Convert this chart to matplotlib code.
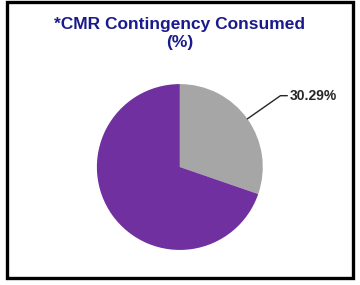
import matplotlib.pyplot as plt
from matplotlib.patches import Rectangle
import numpy as np

title = '*CMR Contingency Consumed\n(%)'
labels = ['Consumed', 'Remaining']
values = [30.29, 69.71]
colors = ['#A6A6A6', '#7030A0']


def main():
	plt.rcParams['font.family'] = ['Liberation Sans', 'DejaVu Sans']
	fig = plt.figure(figsize=(3.6, 2.85), dpi=100, facecolor='w')

	# outer frame
	fig.patches.append(Rectangle((7 / 360, 7 / 285), 346 / 360, 276 / 285,
		transform=fig.transFigure, fill=False, edgecolor='#000000', linewidth=2.4))

	fig.text(0.5, 0.94, title, ha='center', va='top', fontsize=12.5,
		fontweight='bold', color='#1A1A8C', linespacing=1.25)

	ax = fig.add_axes([0.269, 0.123, 0.461, 0.582])
	wedges, _ = ax.pie(values, colors=colors, startangle=90, counterclock=False,
		radius=1, wedgeprops=dict(linewidth=0))
	ax.set_xlim(-1, 1)
	ax.set_ylim(-1, 1)
	ax.set_aspect('equal')
	ax.axis('off')

	# label for the consumed slice
	w = wedges[0]
	ang = np.deg2rad((w.theta1 + w.theta2) / 2)
	x, y = np.cos(ang), np.sin(ang)
	ax.annotate('%.2f%%' % values[0], xy=(x, y), xytext=(1.33, 0.86),
		fontsize=10, fontweight='bold', color='#262626', va='center', ha='left',
		annotation_clip=False,
		arrowprops=dict(arrowstyle='-', color='#262626', linewidth=1,
			shrinkA=0, shrinkB=0, connectionstyle='angle,angleA=0,angleB=35,rad=0'))

	fig.savefig('out.png', dpi=100)


if __name__ == '__main__':
	main()
